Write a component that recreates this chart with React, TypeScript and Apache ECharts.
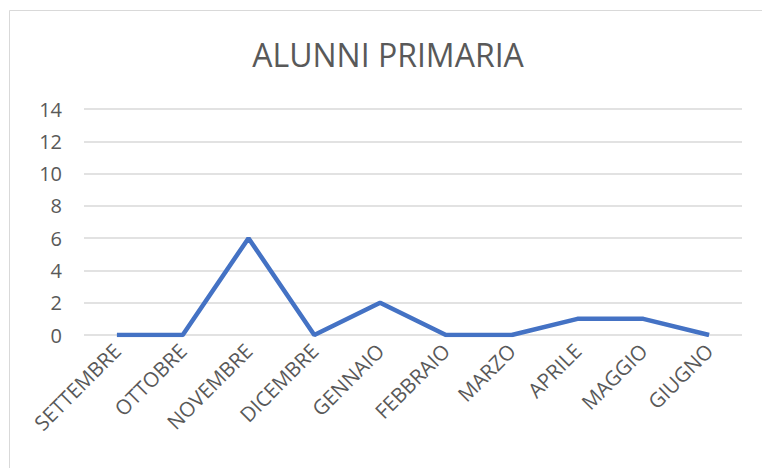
import React, { useEffect, useRef } from "react";
import * as echarts from "echarts";

const categories = ["SETTEMBRE", "OTTOBRE", "NOVEMBRE", "DICEMBRE", "GENNAIO", "FEBBRAIO", "MARZO", "APRILE", "MAGGIO", "GIUGNO"];
const values = [0, 0, 6, 0, 2, 0, 0, 1, 1, 0];
const titleText = "ALUNNI PRIMARIA";

export default function App() {
  const ref = useRef<HTMLDivElement>(null);
  useEffect(() => {
    const chart = echarts.init(ref.current!, null, { renderer: "svg" });
    chart.setOption({
      animation: false,
      backgroundColor: "#ffffff",
      textStyle: { fontFamily: "Open Sans" },
      graphic: [
        {
          type: "rect",
          shape: { x: 9.5, y: 10.5, width: 760, height: 470 },
          style: { fill: "none", stroke: "#d9d9d9", lineWidth: 1 },
          silent: true,
        },
        {
          type: "text",
          x: 388,
          y: 54,
          style: {
            text: titleText,
            fill: "#595959",
            font: "normal 32px 'Open Sans'",
            align: "center",
            verticalAlign: "middle",
          },
          silent: true,
        },
      ],
      grid: { left: 84, right: 20, top: 109, bottom: 133 },
      xAxis: {
        type: "category",
        data: categories,
        boundaryGap: true,
        axisLine: { show: false },
        axisTick: { show: false },
        axisLabel: { rotate: 45, color: "#595959", fontSize: 20.5, margin: 12, interval: 0 },
      },
      yAxis: {
        type: "value",
        min: 0,
        max: 14,
        interval: 2,
        axisLine: { show: false },
        axisTick: { show: false },
        axisLabel: { color: "#595959", fontSize: 20, margin: 22 },
        splitLine: { lineStyle: { color: "#d9d9d9", width: 1.5 } },
      },
      series: [
        {
          type: "line",
          data: values,
          showSymbol: false,
          symbol: "none",
          lineStyle: { color: "#4472C4", width: 4.5 },
        },
      ],
    });
    return () => chart.dispose();
  }, []);
  return <div ref={ref} style={{ position: "fixed", left: 0, top: 0, width: 762, height: 468 }} />;
}
